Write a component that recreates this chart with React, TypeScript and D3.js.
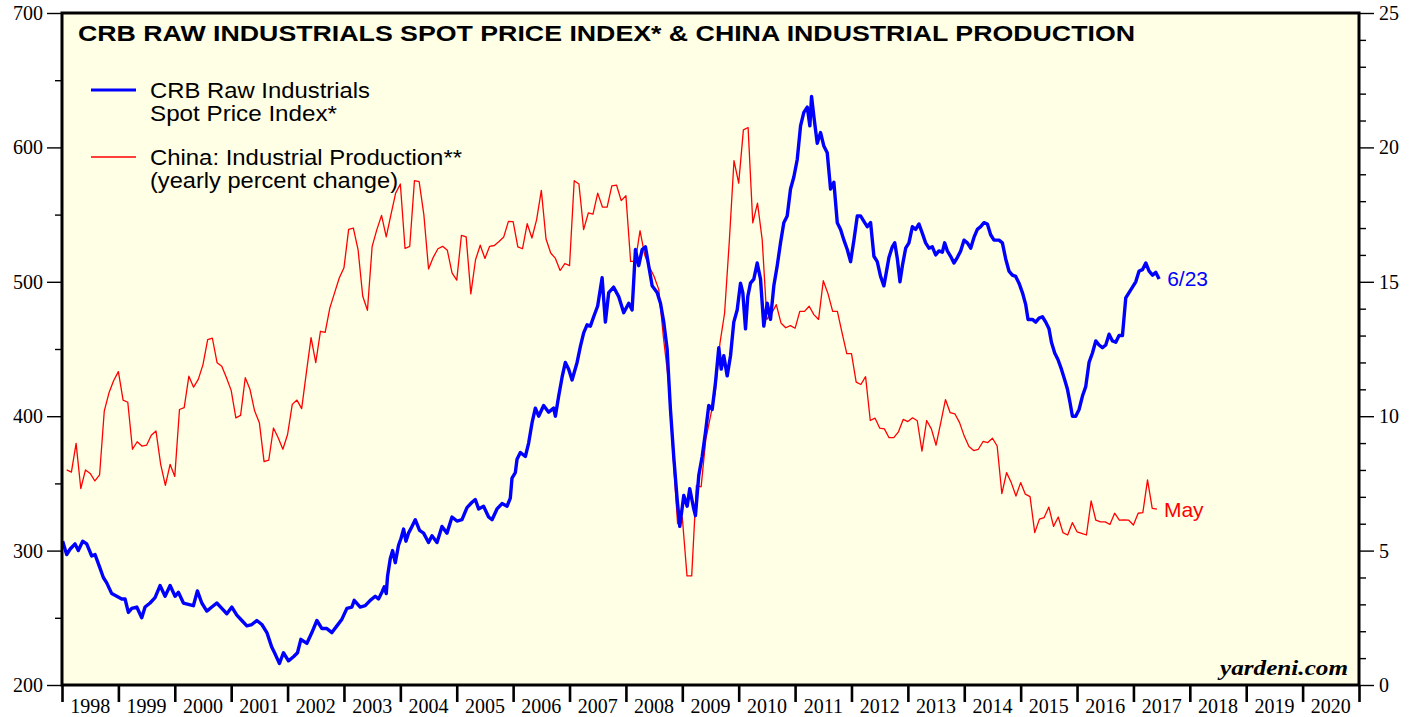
import React, { useEffect, useRef } from "react";
import * as d3 from "d3";

// axis labels
const yearLabels = ["1998", "1999", "2000", "2001", "2002", "2003", "2004", "2005", "2006", "2007", "2008", "2009", "2010", "2011", "2012", "2013", "2014", "2015", "2016", "2017", "2018", "2019", "2020"];
const leftTicks = [200, 300, 400, 500, 600, 700];
const leftMinorTicks = [250, 350, 450, 550, 650];
const rightTicks = [0, 5, 10, 15, 20, 25];

// CRB raw industrials spot price index, [year, index]
const crb1998to2002: [number, number][] = [
  [1998.012, 307], [1998.083, 297], [1998.142, 301], [1998.231, 305], [1998.289, 300], [1998.367, 307], [1998.438, 305], [1998.527, 296], [1998.586, 297], [1998.674, 287], [1998.733, 280], [1998.793, 276], [1998.882, 268], [1998.971, 266],
  [1999.059, 264], [1999.118, 264], [1999.177, 254], [1999.237, 257], [1999.326, 258], [1999.414, 250], [1999.473, 258], [1999.562, 261], [1999.65, 265], [1999.739, 274], [1999.828, 266], [1999.917, 274],
  [2000.005, 266], [2000.064, 269], [2000.153, 261], [2000.241, 260], [2000.33, 259], [2000.401, 270], [2000.479, 261], [2000.568, 255], [2000.657, 258], [2000.745, 261], [2000.834, 257], [2000.923, 253],
  [2001.012, 258], [2001.1, 252], [2001.189, 248], [2001.278, 244], [2001.366, 245], [2001.455, 248], [2001.544, 245], [2001.633, 239], [2001.721, 228], [2001.78, 223], [2001.856, 216], [2001.927, 224],
  [2002.016, 218], [2002.105, 221], [2002.176, 224], [2002.236, 234], [2002.343, 231], [2002.431, 239], [2002.52, 248], [2002.609, 242], [2002.697, 242], [2002.786, 239], [2002.875, 244], [2002.964, 249],
];
const crb2003to2007: [number, number][] = [
  [2003.052, 257], [2003.141, 258], [2003.182, 263], [2003.288, 258], [2003.377, 259], [2003.466, 263], [2003.555, 266], [2003.613, 264], [2003.673, 269], [2003.714, 273], [2003.75, 268], [2003.773, 281], [2003.821, 294], [2003.862, 300], [2003.91, 291], [2003.968, 304],
  [2004.011, 309], [2004.057, 316], [2004.099, 307], [2004.145, 313], [2004.206, 318], [2004.264, 323], [2004.341, 315], [2004.412, 313], [2004.5, 306], [2004.561, 311], [2004.65, 306], [2004.738, 318], [2004.827, 313], [2004.916, 325],
  [2005.004, 322], [2005.093, 323], [2005.182, 332], [2005.271, 336], [2005.329, 338], [2005.388, 331], [2005.476, 333], [2005.565, 325], [2005.626, 323], [2005.714, 331], [2005.803, 335], [2005.892, 333], [2005.95, 339], [2005.98, 354],
  [2006.039, 358], [2006.069, 368], [2006.128, 373], [2006.217, 370], [2006.275, 380], [2006.335, 395], [2006.394, 406], [2006.453, 400], [2006.541, 408], [2006.63, 403], [2006.719, 406], [2006.749, 400], [2006.808, 415], [2006.868, 429], [2006.926, 440], [2006.985, 435],
  [2007.045, 427], [2007.134, 440], [2007.193, 452], [2007.251, 462], [2007.311, 468], [2007.37, 467], [2007.428, 474], [2007.499, 482], [2007.578, 503], [2007.636, 470], [2007.695, 492], [2007.783, 496], [2007.872, 489], [2007.961, 477],
];
const crb2008to2012: [number, number][] = [
  [2008.05, 484], [2008.11, 479], [2008.169, 524], [2008.227, 512], [2008.288, 524], [2008.346, 526], [2008.404, 512], [2008.465, 497], [2008.553, 492], [2008.613, 484], [2008.671, 470], [2008.731, 450], [2008.79, 405], [2008.848, 370], [2008.909, 338], [2008.955, 318],
  [2009.026, 341], [2009.086, 333], [2009.132, 346], [2009.203, 331], [2009.233, 326], [2009.292, 356], [2009.352, 370], [2009.411, 388], [2009.469, 408], [2009.53, 405], [2009.588, 425], [2009.647, 451], [2009.69, 435], [2009.736, 445], [2009.796, 430], [2009.855, 445], [2009.913, 470], [2009.973, 479],
  [2010.032, 499], [2010.073, 492], [2010.121, 465], [2010.161, 489], [2010.209, 499], [2010.268, 502], [2010.328, 514], [2010.387, 502], [2010.445, 467], [2010.506, 484], [2010.564, 472], [2010.623, 497], [2010.683, 512], [2010.742, 529], [2010.8, 544], [2010.86, 549], [2010.919, 569], [2010.978, 578],
  [2011.038, 591], [2011.097, 616], [2011.155, 626], [2011.216, 630], [2011.262, 616], [2011.292, 638], [2011.333, 623], [2011.393, 603], [2011.452, 611], [2011.51, 601], [2011.57, 596], [2011.629, 569], [2011.688, 574], [2011.748, 544], [2011.807, 539], [2011.866, 531], [2011.925, 524], [2011.984, 515],
  [2012.043, 531], [2012.103, 549], [2012.161, 549], [2012.22, 545], [2012.28, 541], [2012.339, 544], [2012.398, 519], [2012.457, 515], [2012.516, 504], [2012.575, 497], [2012.605, 504], [2012.664, 518], [2012.724, 526], [2012.767, 529], [2012.814, 517], [2012.86, 500], [2012.903, 512], [2012.961, 525],
];
const crb2013to2017: [number, number][] = [
  [2013.019, 529], [2013.08, 541], [2013.138, 539], [2013.197, 543], [2013.257, 536], [2013.315, 529], [2013.374, 525], [2013.434, 526], [2013.493, 520], [2013.551, 523], [2013.611, 522], [2013.652, 529], [2013.7, 523], [2013.758, 519], [2013.817, 514], [2013.877, 518], [2013.936, 523], [2013.995, 531],
  [2014.055, 529], [2014.114, 525], [2014.172, 533], [2014.232, 539], [2014.291, 541], [2014.35, 544], [2014.41, 543], [2014.468, 535], [2014.527, 531], [2014.616, 531], [2014.676, 529], [2014.735, 517], [2014.793, 508], [2014.853, 505], [2014.912, 504], [2014.971, 499],
  [2015.031, 492], [2015.09, 483], [2015.131, 472], [2015.209, 472], [2015.267, 470], [2015.326, 473], [2015.386, 474], [2015.445, 470], [2015.503, 465], [2015.546, 455], [2015.604, 447], [2015.663, 442], [2015.723, 435], [2015.782, 427], [2015.83, 420], [2015.876, 410], [2015.918, 400], [2015.977, 400],
  [2016.036, 405], [2016.096, 415], [2016.154, 422], [2016.213, 440], [2016.273, 447], [2016.332, 456], [2016.39, 453], [2016.45, 451], [2016.509, 453], [2016.568, 461], [2016.628, 456], [2016.687, 455], [2016.745, 460], [2016.805, 460], [2016.864, 488], [2016.922, 492], [2016.983, 496],
  [2017.041, 500], [2017.1, 508], [2017.16, 509], [2017.219, 514], [2017.278, 508], [2017.339, 505], [2017.397, 507], [2017.456, 502],
];

// China industrial production, yearly % change, monthly from Jan 1998
const chinaIp1998to2002 = [
  8.0, 7.92, 8.99, 7.31, 8.0, 7.87, 7.59, 7.82, 10.2, 10.87, 11.33, 11.66,
  10.6, 10.52, 8.77, 9.05, 8.89, 8.92, 9.29, 9.45, 8.21, 7.43, 8.21, 7.76,
  10.25, 10.32, 11.49, 11.08, 11.37, 11.92, 12.85, 12.9, 11.99, 11.86, 11.43, 10.96,
  9.94, 10.03, 11.43, 11.0, 10.19, 9.76, 8.31, 8.37, 9.56, 9.2, 8.77, 9.32,
  10.44, 10.6, 10.28, 11.62, 12.92, 11.99, 13.16, 13.12, 14.03, 14.59, 15.14, 15.52,
];
const chinaIp2003to2007 = [
  16.95, 17.0, 16.2, 14.46, 13.94, 16.32, 16.94, 17.47, 16.67, 17.5, 18.3, 18.64,
  16.24, 16.32, 18.76, 18.73, 17.5, 15.48, 15.91, 16.23, 16.32, 16.17, 15.33, 15.06,
  16.73, 16.67, 14.55, 15.82, 16.36, 15.87, 16.32, 16.35, 16.5, 16.67, 17.25, 17.24,
  16.3, 16.23, 17.16, 16.63, 17.31, 18.4, 16.59, 16.07, 15.87, 15.42, 15.68, 15.6,
  18.76, 18.64, 16.94, 17.56, 17.52, 18.3, 17.78, 17.78, 18.57, 18.6, 18.02, 18.2,
];
const chinaIp2008to2012 = [
  15.76, 15.76, 16.9, 16.0, 15.55, 15.2, 14.71, 12.9, 11.4, 8.6, 6.0, 6.23,
  4.06, 4.06, 7.43, 7.37, 9.14, 10.0, 10.87, 12.7, 13.84, 16.5, 19.51, 18.67,
  20.65, 20.74, 17.19, 17.93, 16.57, 13.6, 13.82, 14.15, 13.47, 13.29, 13.37, 13.27,
  13.9, 13.9, 14.09, 13.78, 13.6, 15.04, 14.56, 13.9, 13.9, 13.1, 12.33, 12.33,
  11.27, 11.18, 11.47, 9.84, 9.93, 9.56, 9.53, 9.2, 9.2, 9.42, 9.88, 9.8,
];
const chinaIp2013to2017 = [
  9.94, 9.83, 8.7, 9.84, 9.53, 8.92, 9.76, 10.62, 10.13, 10.09, 9.76, 9.26,
  8.87, 8.72, 8.77, 9.06, 9.02, 9.18, 8.89, 7.12, 7.9, 7.53, 7.03, 7.53,
  7.1, 7.01, 5.67, 6.17, 6.23, 6.62, 5.9, 6.25, 5.67, 5.58, 6.04, 5.7,
  5.64, 5.58, 6.85, 6.13, 6.07, 6.07, 5.97, 6.39, 6.13, 6.14, 6.13, 5.95,
  6.39, 6.41, 7.63, 6.57, 6.54,
];

const SANS = "'Liberation Sans', Arial, Helvetica, sans-serif";
const SERIF = "'Liberation Serif', 'Times New Roman', serif";
const BLUE = "#0000ff";
const RED = "#ff0000";

export default function App() {
  const ref = useRef<SVGSVGElement>(null);

  useEffect(() => {
    const svg = d3.select(ref.current);
    svg.selectAll("*").remove();

    const left = 62, right = 1359, top = 13, bottom = 685;

    const x = d3.scaleLinear().domain([1998, 2021]).range([left, right]);
    const yL = d3.scaleLinear().domain([200, 700]).range([bottom, top]);
    const yR = d3.scaleLinear().domain([0, 25]).range([bottom, top]);

    svg.append("rect").attr("width", 1418).attr("height", 717).attr("fill", "#ffffff");
    svg.append("rect")
      .attr("x", left).attr("y", top)
      .attr("width", right - left).attr("height", bottom - top)
      .attr("fill", "#ffffe6");

    // series
    const crb = [...crb1998to2002, ...crb2003to2007, ...crb2008to2012, ...crb2013to2017];
    const china = [...chinaIp1998to2002, ...chinaIp2003to2007, ...chinaIp2008to2012, ...chinaIp2013to2017]
      .map((v, i) => [1998 + (i + 1) / 12, v] as [number, number]);

    const redLine = d3.line<[number, number]>().x(d => x(d[0])).y(d => yR(d[1]));
    const blueLine = d3.line<[number, number]>().x(d => x(d[0])).y(d => yL(d[1]));

    svg.append("path").datum(china)
      .attr("d", redLine).attr("fill", "none")
      .attr("stroke", RED).attr("stroke-width", 1.3).attr("stroke-linejoin", "round");
    svg.append("path").datum(crb)
      .attr("d", blueLine).attr("fill", "none")
      .attr("stroke", BLUE).attr("stroke-width", 3.4).attr("stroke-linejoin", "round");

    // end labels
    const lastCrb = crb[crb.length - 1];
    const lastChina = china[china.length - 1];
    svg.append("text")
      .attr("x", x(lastCrb[0]) + 8).attr("y", yL(lastCrb[1]) + 7)
      .attr("font-family", SANS).attr("font-size", 21).attr("fill", BLUE)
      .text("6/23");
    svg.append("text")
      .attr("x", x(lastChina[0]) + 7).attr("y", yR(lastChina[1]) + 8)
      .attr("font-family", SANS).attr("font-size", 21).attr("fill", RED)
      .text("May");

    // axes
    const styleAxis = (g: d3.Selection<SVGGElement, unknown, null, undefined>, w: number) => {
      g.select(".domain").remove();
      g.selectAll(".tick line").attr("stroke", "#000").attr("stroke-width", w);
      g.selectAll(".tick text").attr("font-family", SERIF).attr("font-size", 20).attr("fill", "#000");
    };

    const gl = svg.append("g").attr("transform", `translate(${left},0)`)
      .call(d3.axisLeft(yL).tickValues(leftTicks).tickSize(15).tickPadding(4).tickFormat(d3.format("d")));
    styleAxis(gl, 1.4);
    const glm = svg.append("g").attr("transform", `translate(${left},0)`)
      .call(d3.axisLeft(yL).tickValues(leftMinorTicks).tickSize(7).tickFormat(() => ""));
    styleAxis(glm, 1.4);

    const gr = svg.append("g").attr("transform", `translate(${right},0)`)
      .call(d3.axisRight(yR).tickValues(rightTicks).tickSize(15).tickPadding(5).tickFormat(d3.format("d")));
    styleAxis(gr, 1.4);
    const grm = svg.append("g").attr("transform", `translate(${right},0)`)
      .call(d3.axisRight(yR).tickValues(d3.range(1, 25).filter(v => v % 5 !== 0)).tickSize(7).tickFormat(() => ""));
    styleAxis(grm, 1.4);

    const gx = svg.append("g").attr("transform", `translate(0,${bottom})`)
      .call(d3.axisBottom(x).tickValues(yearLabels.map(Number).concat([2021])).tickSize(17).tickFormat(() => ""));
    styleAxis(gx, 2.6);

    svg.append("g").selectAll("text")
      .data(yearLabels)
      .join("text")
      .attr("x", d => x(+d + 0.5))
      .attr("y", 713)
      .attr("text-anchor", "middle")
      .attr("font-family", SERIF).attr("font-size", 20)
      .text(d => d);

    // frame
    svg.append("rect")
      .attr("x", left).attr("y", top)
      .attr("width", right - left).attr("height", bottom - top)
      .attr("fill", "none").attr("stroke", "#000").attr("stroke-width", 3);

    // title
    svg.append("text")
      .attr("x", 78).attr("y", 41)
      .attr("font-family", SANS).attr("font-weight", "bold").attr("font-size", 22)
      .attr("textLength", 1057).attr("lengthAdjust", "spacingAndGlyphs")
      .text("CRB RAW INDUSTRIALS SPOT PRICE INDEX* & CHINA INDUSTRIAL PRODUCTION");

    // legend
    const legend = [
      { color: BLUE, width: 3, lineY: 90, lines: [["CRB Raw Industrials", 220], ["Spot Price Index*", 187]] },
      { color: RED, width: 1.3, lineY: 157, lines: [["China: Industrial Production**", 312], ["(yearly percent change)", 248]] },
    ];
    legend.forEach(item => {
      svg.append("line")
        .attr("x1", 91).attr("x2", 136).attr("y1", item.lineY).attr("y2", item.lineY)
        .attr("stroke", item.color).attr("stroke-width", item.width);
      item.lines.forEach(([label, len], i) => {
        svg.append("text")
          .attr("x", 150).attr("y", item.lineY + 8 + i * 23)
          .attr("font-family", SANS).attr("font-size", 22)
          .attr("textLength", len as number).attr("lengthAdjust", "spacingAndGlyphs")
          .text(label as string);
      });
    });

    svg.append("text")
      .attr("x", 1348).attr("y", 675)
      .attr("text-anchor", "end")
      .attr("font-family", SERIF).attr("font-weight", "bold").attr("font-style", "italic").attr("font-size", 22)
      .attr("textLength", 128).attr("lengthAdjust", "spacingAndGlyphs")
      .text("yardeni.com");
  }, []);

  return (
    <div style={{ position: "absolute", left: 0, top: 0 }}>
      <svg ref={ref} width={1418} height={717} />
    </div>
  );
}
